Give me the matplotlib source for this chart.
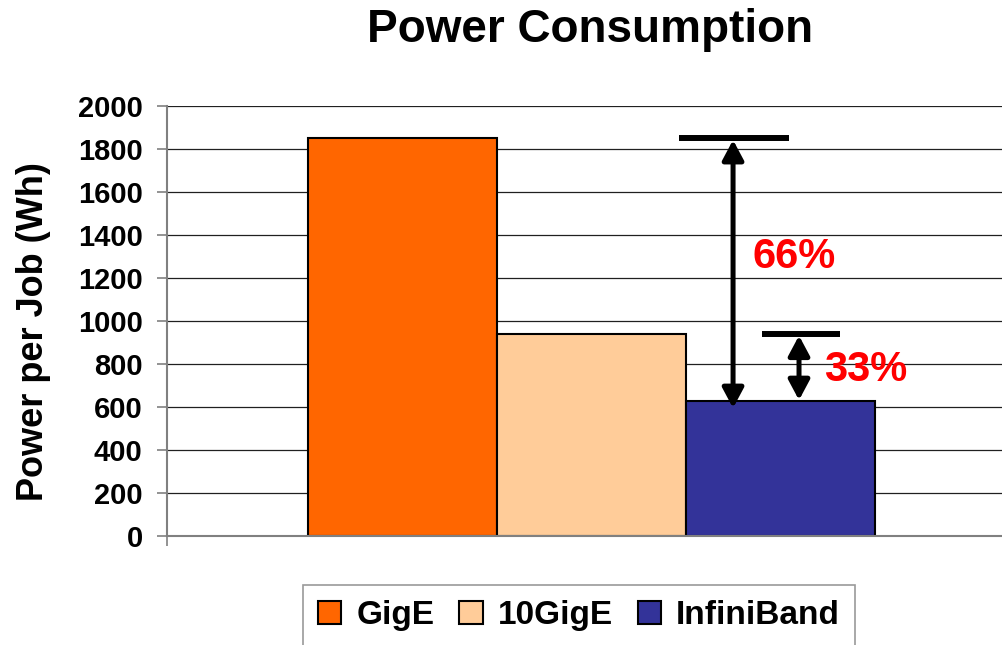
import matplotlib.pyplot as plt

plt.rcParams['font.family'] = ['Liberation Sans', 'DejaVu Sans']
plt.rcParams['font.weight'] = 'bold'

# data
series = ['GigE', '10GigE', 'InfiniBand']
power = [1850, 940, 630]          # Wh per job
colors = ['#FF6600', '#FFCC99', '#333399']
yticks = list(range(0, 2001, 200))

fig = plt.figure(figsize=(10.02, 6.45), dpi=100)
ax = fig.add_axes([167 / 1002, 1 - 536 / 645, 1 - 167 / 1002, (536 - 106) / 645])

pos = [-1, 0, 1]
bars = ax.bar(pos, power, width=1.0, color=colors, edgecolor='black',
              linewidth=1.5, label=series, zorder=3)

ax.set_xlim(-2.246, 2.172)
ax.set_ylim(0, 2000)
ax.set_yticks(yticks)
ax.set_yticklabels([str(t) for t in yticks], fontsize=21, fontweight='bold')
ax.set_xticks([-2.246])
ax.set_xticklabels([''])
ax.tick_params(axis='y', direction='out', length=7.5, width=1.2, color='#808080', pad=10)
ax.tick_params(axis='x', direction='out', length=7.5, width=1.2, color='#808080')
ax.yaxis.grid(True, color='#202020', linewidth=0.9, zorder=0)
ax.set_axisbelow(True)
for s in ['top', 'right']:
    ax.spines[s].set_visible(False)
for s in ['left', 'bottom']:
    ax.spines[s].set_color('#808080')
    ax.spines[s].set_linewidth(1.5)
    ax.spines[s].set_zorder(4)

# difference markers: caps at the higher bars, arrows down to InfiniBand
gig, ten, ib = power
ax.hlines(gig, 0.463, 1.045, color='black', linewidth=4.3, zorder=5)
ax.hlines(ten, 0.902, 1.315, color='black', linewidth=4.3, zorder=5)
arrow = dict(arrowstyle='<|-|>,head_length=0.6,head_width=0.32', color='black',
             linewidth=3.6, shrinkA=0, shrinkB=0, mutation_scale=20)
ax.annotate('', xy=(0.749, ib - 35), xytext=(0.749, gig - 8), arrowprops=arrow, zorder=6)
ax.annotate('', xy=(1.098, ib + 2), xytext=(1.098, ten - 8), arrowprops=arrow, zorder=6)

ax.text(0.854, 1298, '%d%%' % round((gig - ib) / gig * 100), color='#FF0000',
        fontsize=30, fontweight='bold', ha='left', va='center', zorder=6)
ax.text(1.230, 772, '%d%%' % round((ten - ib) / ten * 100), color='#FF0000',
        fontsize=30, fontweight='bold', ha='left', va='center', zorder=6)

fig.text(590 / 1002, 1 - 42 / 645, 'Power Consumption', fontsize=33,
         fontweight='bold', ha='center', va='baseline')
fig.text(34 / 1002, 1 - 332 / 645, 'Power per Job (Wh)', fontsize=26,
         fontweight='bold', rotation=90, ha='center', va='center')

leg = fig.legend(handles=bars, labels=series, loc='upper left', ncol=3,
                 bbox_to_anchor=(303 / 1002, 1 - 586 / 645, (855 - 303) / 1002, 0.001),
                 mode='expand', borderaxespad=0, fontsize=24, frameon=True,
                 fancybox=False, edgecolor='#808080', handlelength=0.7,
                 handleheight=0.7, handletextpad=0.45, columnspacing=0.5,
                 borderpad=0.45)
leg.get_frame().set_linewidth(1.2)
for t in leg.get_texts():
    t.set_fontweight('bold')

fig.savefig('out.png', dpi=100)
